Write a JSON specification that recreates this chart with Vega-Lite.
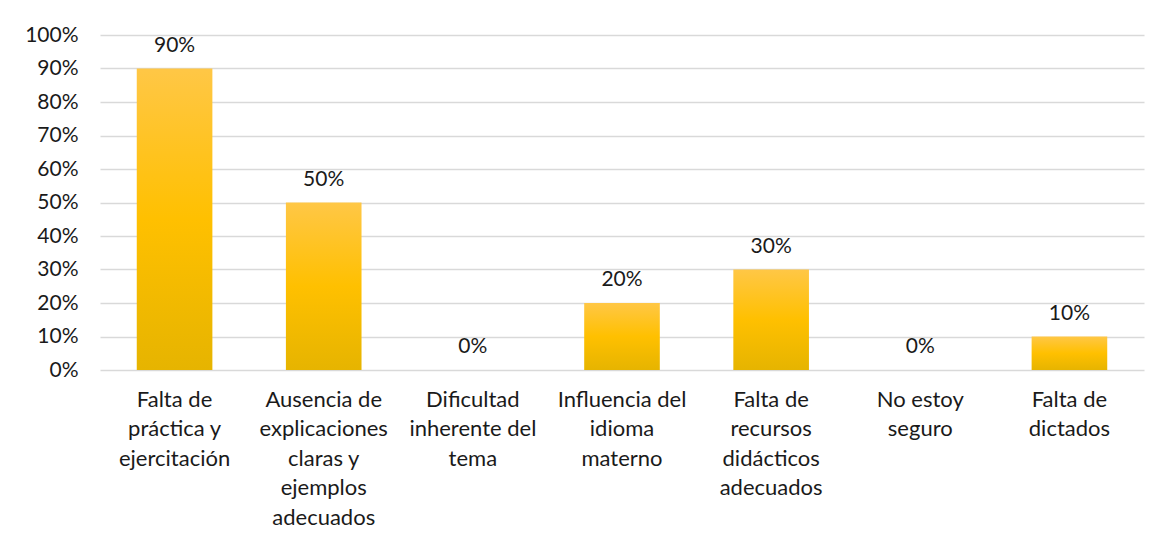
{
  "$schema": "https://vega.github.io/schema/vega-lite/v6.json",
  "width": 1044,
  "height": 335,
  "autosize": {"type": "none"},
  "padding": {"left": 100, "top": 35, "right": 22, "bottom": 177},
  "background": "white",
  "config": {
    "view": {"stroke": null},
    "font": "Lato"
  },
  "data": {
    "values": [
      {"cat": "Falta de\npráctica y\nejercitación", "value": 0.9},
      {"cat": "Ausencia de\nexplicaciones\nclaras y\nejemplos\nadecuados", "value": 0.5},
      {"cat": "Dificultad\ninherente del\ntema", "value": 0.0},
      {"cat": "Influencia del\nidioma\nmaterno", "value": 0.2},
      {"cat": "Falta de\nrecursos\ndidácticos\nadecuados", "value": 0.3},
      {"cat": "No estoy\nseguro", "value": 0.0},
      {"cat": "Falta de\ndictados", "value": 0.1}
    ]
  },
  "encoding": {
    "x": {
      "field": "cat",
      "type": "nominal",
      "sort": null,
      "title": null,
      "scale": {"paddingInner": 0.493, "paddingOuter": 0.2465},
      "axis": {
        "domain": false,
        "ticks": false,
        "labelAngle": 0,
        "labelFont": "Lato",
        "labelFontSize": 22,
        "labelColor": "#1a1a1a",
        "labelLineHeight": 29.5,
        "labelPadding": 19,
        "labelBaseline": "top",
        "labelExpr": "split(datum.label, '\\n')"
      }
    },
    "y": {
      "field": "value",
      "type": "quantitative",
      "title": null,
      "scale": {"domain": [0, 1]},
      "axis": {
        "values": [0, 0.1, 0.2, 0.3, 0.4, 0.5, 0.6, 0.7, 0.8, 0.9, 1.0],
        "format": ".0%",
        "domain": false,
        "ticks": false,
        "labelFont": "Lato",
        "labelFontSize": 21,
        "labelColor": "#1a1a1a",
        "labelPadding": 22,
        "grid": true,
        "gridColor": "#d9d9d9",
        "gridWidth": 1.5
      }
    }
  },
  "layer": [
    {
      "mark": {
        "type": "bar",
        "color": {
          "gradient": "linear",
          "x1": 0, "y1": 0, "x2": 0, "y2": 1,
          "stops": [
            {"offset": 0, "color": "#ffc746"},
            {"offset": 0.5, "color": "#ffc000"},
            {"offset": 1, "color": "#e6b400"}
          ]
        }
      }
    },
    {
      "mark": {
        "type": "text",
        "baseline": "alphabetic",
        "dy": -17,
        "font": "Lato",
        "fontSize": 21,
        "color": "#1a1a1a"
      },
      "encoding": {
        "text": {"field": "value", "type": "quantitative", "format": ".0%"}
      }
    }
  ]
}
